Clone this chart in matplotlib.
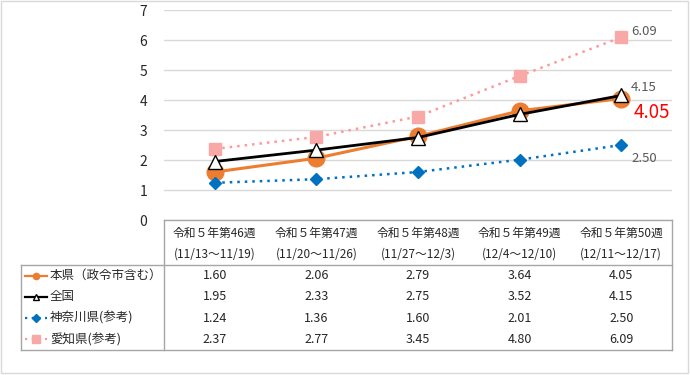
import matplotlib
matplotlib.use("Agg")
import matplotlib.pyplot as plt

plt.rcParams['font.family'] = ['Noto Sans CJK JP', 'DejaVu Sans']

weeks = ["令和５年第46週", "令和５年第47週", "令和５年第48週", "令和５年第49週", "令和５年第50週"]
periods = ["(11/13～11/19)", "(11/20～11/26)", "(11/27～12/3)", "(12/4～12/10)", "(12/11～12/17)"]
series_names = ["本県（政令市含む）", "全国", "神奈川県(参考)", "愛知県(参考)"]
honken = [1.60, 2.06, 2.79, 3.64, 4.05]
zenkoku = [1.95, 2.33, 2.75, 3.52, 4.15]
kanagawa = [1.24, 1.36, 1.60, 2.01, 2.50]
aichi = [2.37, 2.77, 3.45, 4.80, 6.09]
yticks = [0, 1, 2, 3, 4, 5, 6, 7]

W, H = 690, 375
fig = plt.figure(figsize=(W / 100, H / 100), dpi=100)

# chart border
bg = fig.add_axes([0, 0, 1, 1])
bg.set_xlim(0, W)
bg.set_ylim(H, 0)
bg.axis('off')
bg.add_patch(plt.Rectangle((1, 1), W - 3, H - 3, fill=False, ec='#D9D9D9', lw=1))

L, R, T, B = 164, 672, 10, 220
ax = fig.add_axes([L / W, 1 - B / H, (R - L) / W, (B - T) / H])
ax.set_xlim(-0.5, 4.5)
ax.set_ylim(0, 7)
ax.set_yticks(yticks)
ax.set_xticks([])
for s in ax.spines.values():
    s.set_visible(False)
ax.tick_params(axis='y', length=0, pad=12, labelsize=10, labelcolor='#262626')
ax.grid(axis='y', color='#D9D9D9', lw=1)
ax.set_axisbelow(True)
ax.patch.set_alpha(0)

x = list(range(len(weeks)))
styles = [
    dict(color='#ED7D31', lw=2.2, ls='-', marker='o', ms=12, mfc='#ED7D31', mec='#ED7D31', mew=1, zorder=3),
    dict(color='black', lw=2, ls='-', marker='^', ms=10, mfc='white', mec='black', mew=1, zorder=4),
    dict(color='#0070C0', lw=1.8, ls=(0, (1, 2)), marker='D', ms=6.5, mfc='#0070C0', mec='#0070C0', mew=1, zorder=3),
    dict(color='#FF9999', lw=1.8, ls=(0, (1, 2)), marker='s', ms=8, mfc='#F9A8A8', mec='#F9A8A8', mew=1, zorder=2),
]
data = [honken, zenkoku, kanagawa, aichi]
for d, st in zip(data, styles):
    ax.plot(x, d, clip_on=False, **st)

# data labels
ax.annotate(f"{aichi[-1]:.2f}", (4, aichi[-1]), xytext=(10, 6), textcoords='offset pixels',
            ha='left', va='center', fontsize=9.5, color='#595959')
ax.annotate(f"{zenkoku[-1]:.2f}", (4, zenkoku[-1]), xytext=(10, 8), textcoords='offset pixels',
            ha='left', va='center', fontsize=9.5, color='#595959')
ax.annotate(f"{honken[-1]:.2f}", (4, honken[-1]), xytext=(12, -14), textcoords='offset pixels',
            ha='left', va='center', fontsize=13.5, color='#FF0000')
ax.annotate(f"{kanagawa[-1]:.2f}", (4, kanagawa[-1]), xytext=(10, -13), textcoords='offset pixels',
            ha='left', va='center', fontsize=9.5, color='#595959')

# data table
tc = '#A6A6A6'
TL, HT, HB, TB = 21, 220, 265, 350
bg.plot([L, R], [HT, HT], color=tc, lw=1)
bg.plot([TL, R], [HB, HB], color=tc, lw=1)
bg.plot([TL, R], [TB, TB], color=tc, lw=1)
bg.plot([L, L], [HT, TB], color=tc, lw=1)
bg.plot([R, R], [HT, TB], color=tc, lw=1)
bg.plot([TL, TL], [HB, TB], color=tc, lw=1)

colw = (R - L) / len(weeks)
txtc = '#262626'
for i, (w, p) in enumerate(zip(weeks, periods)):
    cx = L + colw * (i + 0.5)
    bg.text(cx, 233, w, ha='center', va='center', fontsize=8.5, color=txtc)
    bg.text(cx, 254, p, ha='center', va='center', fontsize=8.5, color=txtc)

rowh = (TB - HB) / len(series_names)
icon_ms = [4.5, 5, 4, 5.5]
icon_lw = [1.6, 1.6, 1.6, 1.6]
for r, (name, d, st) in enumerate(zip(series_names, data, styles)):
    cy = HB + rowh * (r + 0.5)
    for i, v in enumerate(d):
        cx = L + colw * (i + 0.5)
        bg.text(cx, cy, f"{v:.2f}", ha='center', va='center', fontsize=9, color=txtc)
    bg.plot([25, 47], [cy, cy], color=st['color'], lw=icon_lw[r], ls=st['ls'])
    bg.plot([36], [cy], ls='none', marker=st['marker'], ms=icon_ms[r], mfc=st['mfc'], mec=st['mec'],
            mew=st['mew'])
    bg.text(50, cy, name, ha='left', va='center', fontsize=9, color=txtc)

fig.savefig('out.png', dpi=100)
